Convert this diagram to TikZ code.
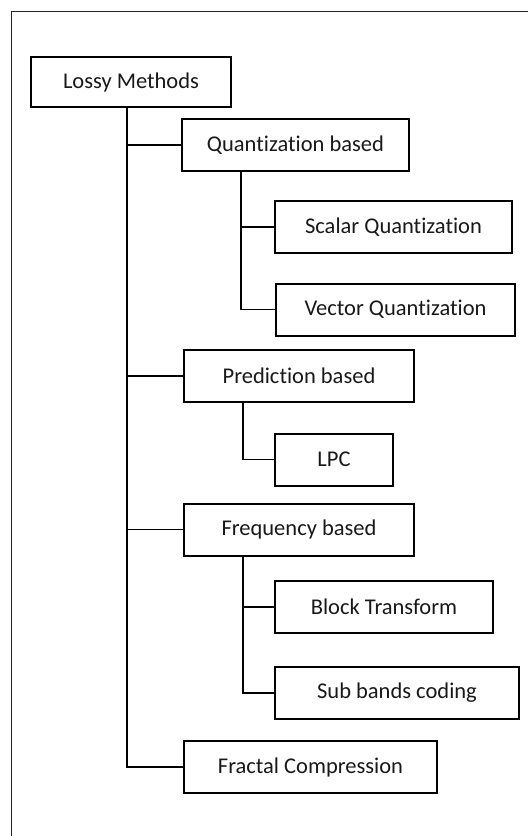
\documentclass[tikz,border=0pt]{standalone}
\usepackage{fontspec}
\setmainfont[Ligatures=NoCommon]{Carlito}
\usetikzlibrary{positioning}

\begin{document}
\begin{tikzpicture}[
  x=1pt, y=-1pt,
  every node/.style={rectangle, sharp corners, align=center},
  box/.style={draw=black, line width=2pt, anchor=west, inner sep=0pt,
    font=\fontsize{22.5}{27}\selectfont, minimum height=52pt, text=black!90},
  link/.style={line width=1.7pt, black}
]
\useasboundingbox (0,0) rectangle (528,836);

% Frame
\draw[line width=1pt, black!85] (11,836) -- (11,11) -- (528,11);

% Root node: Lossy Methods
\node[box, minimum width=200pt, minimum height=50pt] (lossy) at (30,82) {Lossy Methods};

% First level
\node[box, minimum width=227pt] (quant) at (181,145) {Quantization based};
\node[box, minimum width=230pt] (pred) at (183,376) {Prediction based};
\node[box, minimum width=230pt] (freq) at (183,529.5) {Frequency based};
\node[box, minimum width=253pt] (fractal) at (183,767) {Fractal Compression};

% Second level
\node[box, minimum width=237pt] (scalar) at (274,227) {Scalar Quantization};
\node[box, minimum width=239pt] (vector) at (275,309.5) {Vector Quantization};
\node[box, minimum width=118pt] (lpc) at (274,459.5) {LPC};
\node[box, minimum width=218pt] (block) at (274,607) {Block Transform};
\node[box, minimum width=244pt] (subband) at (274,693) {Sub bands coding};

% Connectors
\draw[link] ([xshift=97pt]lossy.south west) |- (quant.west);
\draw[link] ([xshift=97pt]lossy.south west) |- (pred.west);
\draw[link] ([xshift=97pt]lossy.south west) |- (freq.west);
\draw[link] ([xshift=97pt]lossy.south west) |- (fractal.west);

\draw[link] ([xshift=60pt]quant.south west) |- (scalar.west);
\draw[link] ([xshift=60pt]quant.south west) |- (vector.west);
\draw[link] ([xshift=60pt]pred.south west) |- (lpc.west);
\draw[link] ([xshift=60pt]freq.south west) |- (block.west);
\draw[link] ([xshift=60pt]freq.south west) |- (subband.west);

\end{tikzpicture}
\end{document}
